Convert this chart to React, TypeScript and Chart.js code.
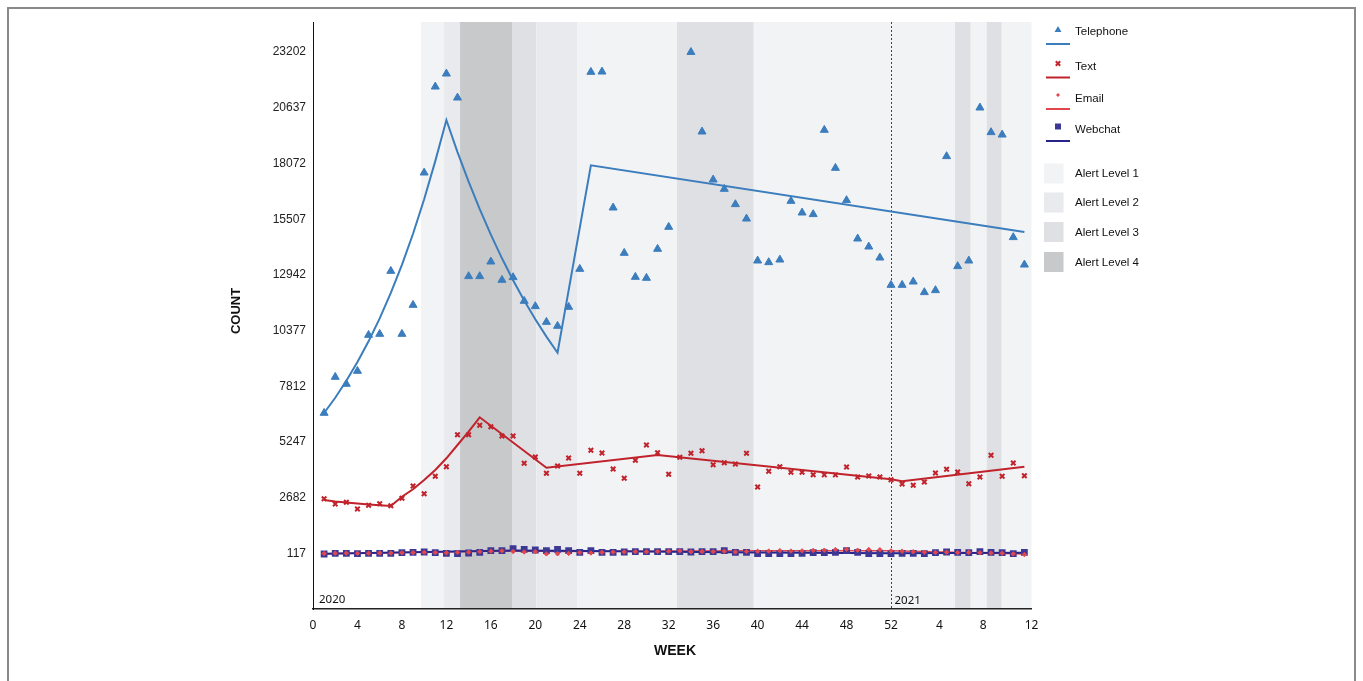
import React, { useEffect, useRef } from 'react';
import { Chart, registerables } from 'chart.js';

Chart.register(...registerables);

// ---- categories (continuous week index: 1 = week 1 of 2020, 52 = start of 2021) ----
const WEEK_INDEX: number[] = Array.from({ length: 64 }, (_, i) => i + 1);

// ---- x-axis ticks ----
const X_TICK_POS = [0, 4, 8, 12, 16, 20, 24, 28, 32, 36, 40, 44, 48, 52, 56.35, 60.3, 64.64];
const X_TICK_LABELS = ['0', '4', '8', '12', '16', '20', '24', '28', '32', '36', '40', '44', '48', '52', '4', '8', '12'];
const X_MAX = 64.64;

// ---- y-axis ticks ----
const Y_TICKS = [117, 2682, 5247, 7812, 10377, 12942, 15507, 18072, 20637, 23202];
const Y_MIN = -2448;
const Y_MAX = 24590;

// ---- weekly counts ----
const telephone: (number | null)[] = [
  6580, 8238, 7916, 8514, 10172, 10218, 13120, 10218, 11554, 17648,
  21609, 22208, 21102, 12876, 12876, 13549, 12706, 12830, 11738, 11494,
  10771, 10587, 11462, 13212, 22286, 22300, 16036, 13949, 12844, 12798,
  14134, 15147, null, 23202, 19537, 17326, 16897, 16192, 15529, 13595,
  13520, 13640, 16344, 15806, 15732, 19615, 17864, 16377, 14608, 14240,
  13733, 12475, 12475, 12628, 12139, 12231, 18403, 13337, 13595, 20642,
  19509, 19398, 14672, 13410,
];
const text: number[] = [
  2632, 2388, 2467, 2158, 2328, 2402, 2310, 2651, 3217, 2863,
  3664, 4106, 5580, 5580, 6013, 5949, 5520, 5520, 4263, 4553,
  3802, 4139, 4507, 3802, 4862, 4737, 4000, 3572, 4401, 5106,
  4751, 3756, 4539, 4724, 4843, 4198, 4291, 4231, 4724, 3171,
  3894, 4106, 3848, 3848, 3738, 3730, 3730, 4093, 3632, 3678,
  3632, 3508, 3310, 3249, 3402, 3816, 3987, 3862, 3323, 3632,
  4631, 3664, 4277, 3692,
];
const email: number[] = [
  110, 120, 125, 115, 120, 130, 125, 140, 150, 160,
  150, 140, 160, 170, 190, 210, 230, 200, 180, 190,
  90, 95, 110, 150, 130, 160, 170, 180, 190, 185,
  200, 210, 230, 190, 200, 195, 210, 180, 200, 210,
  220, 240, 220, 230, 250, 260, 290, 300, 260, 290,
  280, 230, 210, 190, 170, 160, 170, 150, 160, 140,
  130, 120, 90, 60,
];
const webchat: number[] = [
  85, 117, 117, 99, 117, 117, 117, 145, 164, 177,
  145, 117, 99, 131, 164, 237, 237, 329, 302, 270,
  237, 302, 237, 164, 237, 164, 164, 177, 191, 191,
  191, 191, 191, 177, 191, 191, 237, 164, 164, 99,
  99, 99, 99, 117, 145, 145, 164, 237, 164, 99,
  99, 99, 117, 117, 99, 145, 177, 164, 145, 191,
  164, 145, 99, 164,
];

// ---- fitted trend lines (week index, value) ----
const telFitWeeks = [1, 2, 3, 4, 5, 6, 7, 8, 9, 10, 11, 12, 13, 14, 15, 16, 17, 18, 19, 20, 21, 22, 25, 64];
const telFitValues = [
  6580, 7284, 8063, 8926, 9881, 10938, 12108, 13404, 14838, 16426, 18183, 20075,
  18600, 17233, 15966, 14793, 13705, 12698, 11765, 10900, 10099, 9357, 17989, 14917,
];
const textFitWeeks = [1, 2, 3, 4, 5, 6, 7, 8, 9, 10, 11, 12, 13, 14, 15, 21, 31, 52, 53, 64];
const textFitValues = [
  2572, 2503, 2457, 2411, 2365, 2328, 2296, 2725, 3065, 3494, 3954, 4493, 5106, 5718, 6382,
  4060, 4645, 3526, 3434, 4106,
];
const emailFitWeeks = [1, 18, 22, 40, 52, 64];
const emailFitValues = [100, 240, 200, 230, 240, 90];
const webchatFitWeeks = [1, 18, 22, 40, 52, 64];
const webchatFitValues = [100, 250, 240, 150, 120, 140];

// ---- alert level periods ----
const BAND_START = [9.72, 11.79, 13.23, 17.95, 20.1, 23.8, 32.75, 39.65, 57.76, 59.17, 60.61, 61.96];
const BAND_END = [11.79, 13.23, 17.95, 20.1, 23.8, 32.75, 39.65, 57.76, 59.17, 60.61, 61.96, 64.64];
const BAND_LEVEL = [1, 2, 4, 3, 2, 1, 3, 1, 3, 1, 3, 1];
const LEVEL_COLORS = ['#f2f3f5', '#e9eaed', '#dfe0e4', '#c8c9cb'];
const YEAR_BREAK = 52;

const COL_TEL = '#3b7dbd';
const COL_TEXT = '#c0232b';
const COL_EMAIL = '#e2474d';
const COL_WEB = '#3d3894';
const COL_WEB_LINE = '#26238a';

const pts = (vals: (number | null)[]) =>
  WEEK_INDEX.map((w, i) => ({ x: w, y: vals[i] })).filter((p) => p.y !== null);
const fit = (ws: number[], vs: number[]) => ws.map((w, i) => ({ x: w, y: vs[i] }));

const TICK_FONT = 'Noto Sans';
const Y_FONT = 'Liberation Sans';

const bandsPlugin = {
  id: 'bands',
  beforeDraw(chart: any) {
    const { ctx, chartArea, scales } = chart;
    const xs = scales.x;
    ctx.save();
    for (let i = 0; i < BAND_START.length; i++) {
      const x1 = xs.getPixelForValue(BAND_START[i]);
      const x2 = xs.getPixelForValue(BAND_END[i]);
      ctx.fillStyle = LEVEL_COLORS[BAND_LEVEL[i] - 1];
      ctx.fillRect(x1, chartArea.top, x2 - x1, chartArea.bottom - chartArea.top);
    }
    const xb = Math.round(xs.getPixelForValue(YEAR_BREAK)) + 0.5;
    ctx.strokeStyle = '#444';
    ctx.lineWidth = 1;
    ctx.setLineDash([2, 2]);
    ctx.beginPath();
    ctx.moveTo(xb, chartArea.top);
    ctx.lineTo(xb, chartArea.bottom);
    ctx.stroke();
    ctx.setLineDash([]);
    ctx.fillStyle = '#111';
    ctx.font = `11.5px "${TICK_FONT}"`;
    ctx.textBaseline = 'alphabetic';
    ctx.textAlign = 'left';
    ctx.fillText('2020', chartArea.left + 6, chartArea.bottom - 6);
    ctx.fillText('2021', xb + 3, chartArea.bottom - 5);
    ctx.restore();
  },
};

function drawMarker(ctx: CanvasRenderingContext2D, kind: string, x: number, y: number, color: string) {
  ctx.save();
  ctx.fillStyle = color;
  ctx.strokeStyle = color;
  if (kind === 'triangle') {
    const r = 4;
    ctx.beginPath();
    ctx.moveTo(x, y - r);
    ctx.lineTo(x + r * 0.866, y + r * 0.5);
    ctx.lineTo(x - r * 0.866, y + r * 0.5);
    ctx.closePath();
    ctx.fill();
  } else if (kind === 'cross') {
    ctx.lineWidth = 2;
    const s = 2.2;
    ctx.beginPath();
    ctx.moveTo(x - s, y - s);
    ctx.lineTo(x + s, y + s);
    ctx.moveTo(x + s, y - s);
    ctx.lineTo(x - s, y + s);
    ctx.stroke();
  } else if (kind === 'diamond') {
    const s = 2;
    ctx.beginPath();
    ctx.moveTo(x, y - s);
    ctx.lineTo(x + s, y);
    ctx.lineTo(x, y + s);
    ctx.lineTo(x - s, y);
    ctx.closePath();
    ctx.fill();
  } else {
    ctx.fillRect(x - 3, y - 3, 6, 6);
  }
  ctx.restore();
}

const legendPlugin = {
  id: 'customLegend',
  afterDraw(chart: any) {
    const { ctx } = chart;
    ctx.save();
    const series = [
      { label: 'Telephone', kind: 'triangle', color: COL_TEL, line: COL_TEL, my: 30, ly: 44, ty: 32 },
      { label: 'Text', kind: 'cross', color: COL_TEXT, line: COL_TEXT, my: 63.5, ly: 77.5, ty: 67 },
      { label: 'Email', kind: 'diamond', color: COL_EMAIL, line: COL_EMAIL, my: 95, ly: 109, ty: 98.5 },
      { label: 'Webchat', kind: 'rect', color: COL_WEB, line: COL_WEB_LINE, my: 126.5, ly: 141, ty: 130 },
    ];
    ctx.font = `11.5px "${Y_FONT}"`;
    ctx.textBaseline = 'middle';
    ctx.textAlign = 'left';
    for (const s of series) {
      drawMarker(ctx, s.kind, 1058, s.my, s.color);
      ctx.strokeStyle = s.line;
      ctx.lineWidth = 2;
      ctx.beginPath();
      ctx.moveTo(1046, s.ly);
      ctx.lineTo(1070, s.ly);
      ctx.stroke();
      ctx.fillStyle = '#111';
      ctx.fillText(s.label, 1075, s.ty);
    }
    const levels = [
      { label: 'Alert Level 1', y: 163.5 },
      { label: 'Alert Level 2', y: 192.5 },
      { label: 'Alert Level 3', y: 222 },
      { label: 'Alert Level 4', y: 252 },
    ];
    levels.forEach((l, i) => {
      ctx.fillStyle = LEVEL_COLORS[i];
      ctx.fillRect(1044, l.y, 19.5, 20);
      ctx.fillStyle = '#111';
      ctx.fillText(l.label, 1075, l.y + 10.5);
    });
    // axis titles
    ctx.fillStyle = '#111';
    ctx.font = `bold 14px "${Y_FONT}"`;
    ctx.textAlign = 'center';
    ctx.textBaseline = 'middle';
    ctx.fillText('WEEK', 675, 651);
    ctx.font = `bold 13px "${Y_FONT}"`;
    ctx.translate(236, 311);
    ctx.rotate(-Math.PI / 2);
    ctx.fillText('COUNT', 0, 0);
    ctx.restore();
  },
};

export default function App() {
  const ref = useRef<HTMLCanvasElement | null>(null);

  useEffect(() => {
    if (!ref.current) return;
    const chart = new Chart(ref.current, {
      type: 'scatter',
      data: {
        datasets: [
          {
            label: 'Telephone fit',
            data: fit(telFitWeeks, telFitValues),
            showLine: true,
            borderColor: COL_TEL,
            borderWidth: 2,
            pointRadius: 0,
            tension: 0,
          },
          {
            label: 'Telephone',
            data: pts(telephone),
            pointStyle: 'triangle',
            pointRadius: 4.6,
            backgroundColor: COL_TEL,
            borderColor: COL_TEL,
            borderWidth: 1,
          },
          {
            label: 'Text fit',
            data: fit(textFitWeeks, textFitValues),
            showLine: true,
            borderColor: COL_TEXT,
            borderWidth: 2,
            pointRadius: 0,
            tension: 0,
          },
          {
            label: 'Text',
            data: pts(text),
            pointStyle: 'crossRot',
            pointRadius: 3.2,
            borderColor: COL_TEXT,
            backgroundColor: COL_TEXT,
            borderWidth: 2,
          },
          {
            label: 'Email',
            data: pts(email),
            pointStyle: 'rectRot',
            pointRadius: 2.2,
            borderColor: COL_EMAIL,
            backgroundColor: COL_EMAIL,
            borderWidth: 1,
          },
          {
            label: 'Webchat',
            data: pts(webchat),
            pointStyle: 'rect',
            pointRadius: 4.8,
            borderColor: COL_WEB,
            backgroundColor: COL_WEB,
            borderWidth: 0,
          },
          {
            label: 'Webchat fit',
            data: fit(webchatFitWeeks, webchatFitValues),
            showLine: true,
            borderColor: COL_WEB_LINE,
            borderWidth: 2,
            pointRadius: 0,
            tension: 0,
          },
          {
            label: 'Email fit',
            data: fit(emailFitWeeks, emailFitValues),
            showLine: true,
            borderColor: COL_EMAIL,
            borderWidth: 1.5,
            pointRadius: 0,
            tension: 0,
          },
        ],
      },
      options: {
        animation: false,
        responsive: false,
        devicePixelRatio: 1,
        layout: { padding: { left: 0, top: 22, right: 331.5, bottom: 0 } },
        plugins: { legend: { display: false }, tooltip: { enabled: false } },
        scales: {
          x: {
            type: 'linear',
            min: 0,
            max: X_MAX,
            grid: { display: false, drawTicks: false },
            border: { display: true, color: '#222', width: 1.5 },
            ticks: {
              autoSkip: false,
              maxRotation: 0,
              padding: 9,
              color: '#111',
              font: { family: TICK_FONT, size: 12 },
              callback: (_v: any, i: number) => X_TICK_LABELS[i],
            },
            afterBuildTicks: (s: any) => {
              s.ticks = X_TICK_POS.map((v) => ({ value: v }));
            },
            afterFit: (s: any) => {
              s.height = 72;
            },
          },
          y: {
            type: 'linear',
            min: Y_MIN,
            max: Y_MAX,
            grid: { display: false, drawTicks: false },
            border: { display: true, color: '#111', width: 1 },
            ticks: {
              autoSkip: false,
              padding: 7,
              color: '#222',
              font: { family: Y_FONT, size: 12 },
              callback: (_v: any, i: number) => String(Y_TICKS[i]),
            },
            afterBuildTicks: (s: any) => {
              s.ticks = Y_TICKS.map((v) => ({ value: v }));
            },
            afterFit: (s: any) => {
              s.width = 313;
            },
          },
        },
      },
      plugins: [bandsPlugin, legendPlugin],
    } as any);
    return () => chart.destroy();
  }, []);

  return (
    <div
      style={{
        position: 'fixed',
        left: 0,
        top: 0,
        width: 1363,
        height: 681,
        overflow: 'hidden',
        background: '#fff',
      }}
    >
      <canvas
        ref={ref}
        width={1363}
        height={681}
        style={{ position: 'absolute', left: 0, top: 0, width: 1363, height: 681 }}
      />
      <div
        style={{
          position: 'absolute',
          left: 7,
          top: 7,
          width: 1349,
          height: 700,
          border: '2px solid #8a8a8a',
          boxSizing: 'border-box',
          pointerEvents: 'none',
        }}
      />
    </div>
  );
}
